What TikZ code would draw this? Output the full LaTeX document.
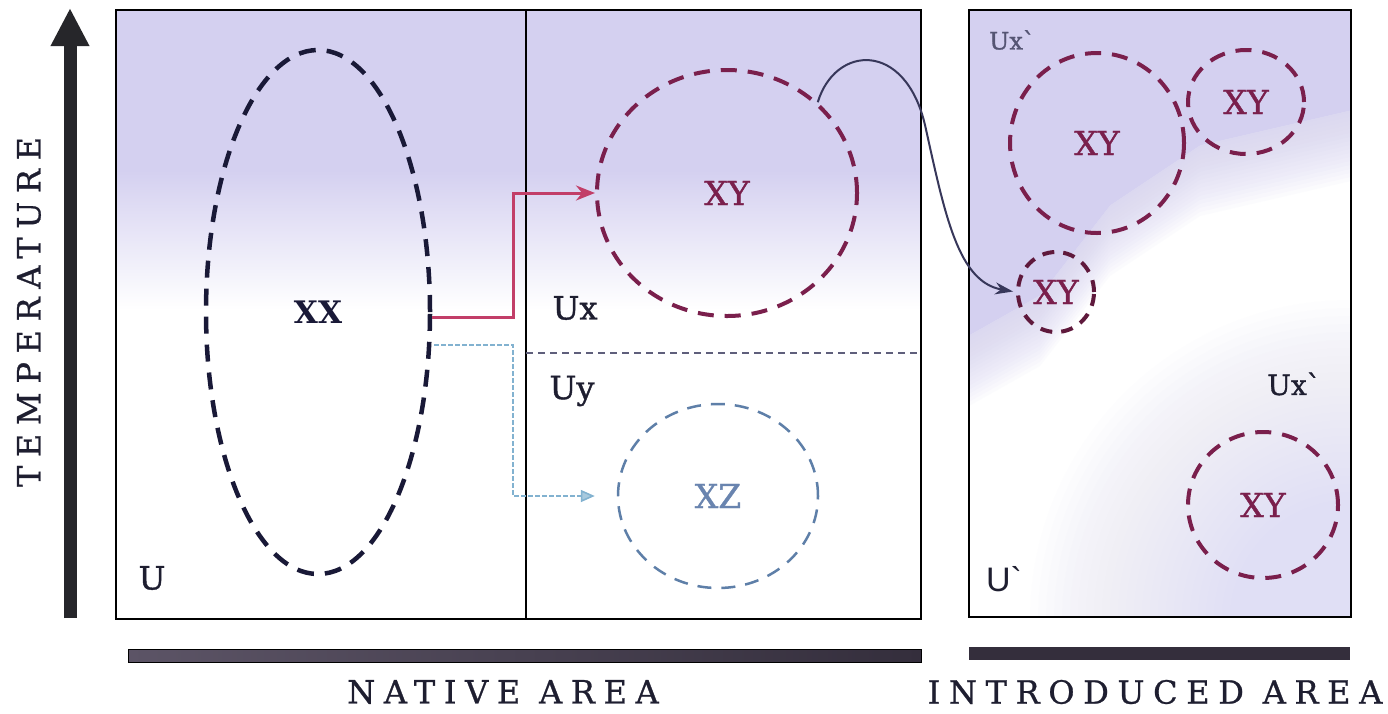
\documentclass[tikz,border=0pt]{standalone}
\usepackage{fontspec}
\setmainfont{DejaVu Serif}
\newfontfamily\sansU{Liberation Sans}
\newfontfamily\medserif[FakeBold=1.2]{DejaVu Serif}
\newfontfamily\spacedfont[LetterSpace=27,FakeBold=0.8]{DejaVu Serif}
\usetikzlibrary{arrows.meta,shapes.geometric}
\definecolor{lav}{RGB}{212,208,240}
\definecolor{lavlight}{RGB}{222,220,245}
\definecolor{plum}{RGB}{122,31,76}
\definecolor{plumdark}{RGB}{95,25,60}
\definecolor{navyink}{RGB}{25,25,55}
\definecolor{redln}{RGB}{194,62,104}
\definecolor{blueln}{RGB}{130,178,208}
\definecolor{xzline}{RGB}{94,127,168}
\definecolor{xztext}{RGB}{105,132,175}
\definecolor{barleft}{RGB}{92,84,102}
\definecolor{barright}{RGB}{52,46,60}
\definecolor{labink}{RGB}{30,30,48}
\definecolor{arrowcol}{RGB}{38,38,42}
\definecolor{curvcol}{RGB}{55,55,90}
\tikzset{
  xxell/.style={ellipse, draw=navyink, line width=4.5pt, dash pattern=on 17pt off 11pt, inner sep=0pt, text=navyink, font=\bfseries\fontsize{31}{36}\selectfont},
  plumell/.style={ellipse, draw=plum, line width=4pt, dash pattern=on 16pt off 11pt, inner sep=0pt, text=plum, font=\medserif\fontsize{33}{38}\selectfont},
  xzell/.style={ellipse, draw=xzline, line width=2.5pt, dash pattern=on 14pt off 10pt, inner sep=0pt, text=xztext, font=\medserif\fontsize{33}{38}\selectfont},
  lbl/.style={text=labink, font=\medserif\fontsize{32}{38}\selectfont, inner sep=0pt},
  axislbl/.style={text=labink, font=\spacedfont\fontsize{32}{38}\selectfont, inner sep=0pt},
  redconn/.style={draw=redln, line width=3pt, -{Stealth[length=19pt,width=15pt]}},
  blueconn/.style={draw=blueln, line width=1.6pt, dash pattern=on 5pt off 2pt, -{Triangle[length=14pt,width=12pt,fill=blueln!70]}},
  curvconn/.style={draw=curvcol, line width=2pt, -{Stealth[length=18pt,width=12pt]}},
  boxline/.style={draw=black, line width=2pt}
}
\begin{document}
\begin{tikzpicture}[x=1pt,y=-1pt]
\useasboundingbox (0,0) rectangle (1388,713);
\fill[white] (0,0) rectangle (1388,713);

% ---------- backgrounds ----------
\fill[lav] (116,10) rectangle (921,170);
\shade[top color=lav,bottom color=white] (116,170) rectangle (921,310);

\begin{scope}
  \clip (969,10) rectangle (1351,617);
  \foreach \r in {320,312,...,120} {
    \fill[lavlight,opacity=0.045] (1350,620) circle (\r);
  }
  \fill[lav] (969,10) -- (1351,10) -- (1351,110) -- (1200,145) -- (1110,205) -- (1040,295) -- (969,335) -- cycle;
  \foreach \d in {-36,-32,...,36} {
    \fill[lav,opacity=0.07] (969,10) -- (1351,10) -- (1351,145+\d) -- (1200,180+\d) -- (1110,240+\d) -- (1040,330+\d) -- (969,370+\d) -- cycle;
  }
\end{scope}

% ---------- boxes ----------
\draw[boxline] (116,10) rectangle (921,619);
\draw[boxline] (526,10) -- (526,619);
\draw[boxline] (969,10) rectangle (1351,617);
\draw[draw=curvcol!80, line width=1.5pt, dash pattern=on 7pt off 5pt] (526,353) -- (921,353);

% ---------- temperature axis ----------
\coordinate (tbot) at (70,618);
\coordinate (ttop) at (70,8);
\draw[arrowcol, line width=13pt, -{Triangle[width=36pt,length=38pt]}] (tbot) -- (ttop);
\node[axislbl, rotate=90] (temp) at (29,312) {TEMPERATURE};

% ---------- bottom bars ----------
\shade[left color=barleft, right color=barright] (128,649) rectangle (921,662);
\draw[black, line width=0.8pt] (128,649) rectangle (921,662);
\fill[barright] (969,647) rectangle (1350,660);
\node[axislbl] (native) at (503,692) {NATIVE AREA};
\node[axislbl] (intro) at (1155,692) {INTRODUCED AREA};

% ---------- ellipses / circles ----------
\node[xxell, minimum width=224pt, minimum height=524pt] (XX) at (318,312) {XX};
\node[plumell, minimum width=260pt, minimum height=246pt] (XYa) at (727,193) {XY};
\node[xzell, minimum width=200pt, minimum height=184pt] (XZ) at (718,496) {XZ};

\node[plumell, minimum width=174pt, minimum height=180pt] (XYb) at (1097,143) {XY};
\node[plumell, minimum width=116pt, minimum height=104pt] (XYc) at (1246,102) {XY};
\node[plumell, draw=plumdark, dash pattern=on 12pt off 9pt, minimum width=76pt, minimum height=80pt] (XYs) at (1056,292) {XY};
\node[plumell, minimum width=150pt, minimum height=146pt] (XYd) at (1263,505) {XY};

% ---------- labels ----------
\node[lbl] (Ux) at (575,308) {Ux};
\node[lbl] (Uy) at (572,391) {Uy};
\node[lbl] (U) at (152,578) {U};
\node[lbl, font=\sansU\fontsize{34}{40}\selectfont] (Up) at (1004,579) {U`};
\node[lbl, text=curvcol!85, font=\medserif\fontsize{24}{28}\selectfont] (Uxa) at (1012,40) {Ux`};
\node[lbl, font=\medserif\fontsize{28}{32}\selectfont] (Uxb) at (1294,384) {Ux`};

% ---------- connectors ----------
\coordinate (r1) at (513,193);
\coordinate (b1) at (513,496);
\coordinate (c1) at (925,125);
\draw[redconn] ([yshift=-5pt]XX.east) -| (r1) -- (XYa.west);
\draw[blueconn, shorten >=22pt] ([yshift=-33pt,xshift=2pt]XX.east) -| (b1) -- (XZ.west);
\draw[curvconn, shorten >=3pt] (XYa.45) .. controls (835,45) and (905,40) .. (c1)
      .. controls (945,215) and (958,282) .. (XYs.west);
\end{tikzpicture}
\end{document}
